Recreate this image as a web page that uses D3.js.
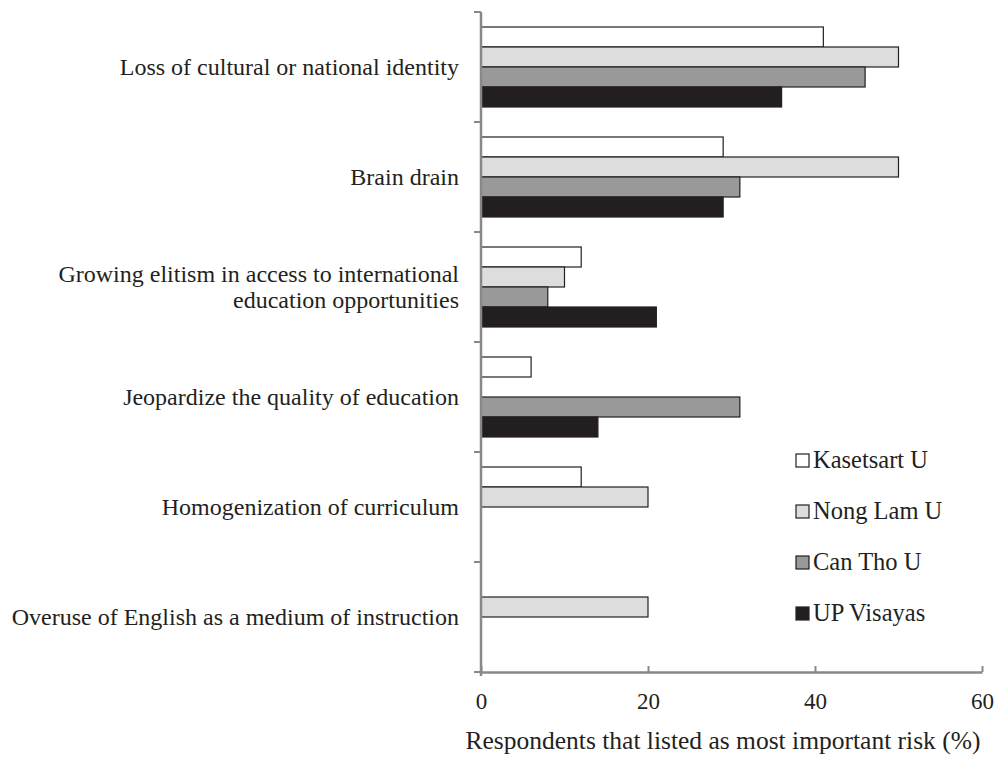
<!DOCTYPE html>
<html>
<head>
<meta charset="utf-8">
<script src="https://cdn.jsdelivr.net/npm/d3@7"></script>
<style>
  body { margin: 0; background: #fff; }
  svg { display: block; font-family: "Liberation Serif", "Times New Roman", serif; }
</style>
</head>
<body>
<div id="chart"></div>
<script>
// chart data
const categories = [
  ["Loss of cultural or national identity"],
  ["Brain drain"],
  ["Growing elitism in access to international", "education opportunities"],
  ["Jeopardize the quality of education"],
  ["Homogenization of curriculum"],
  ["Overuse of English as a medium of instruction"]
];
const seriesNames = ["Kasetsart U", "Nong Lam U", "Can Tho U", "UP Visayas"];
const kasetsart = [41, 29, 12, 6, 12, 0];
const nongLam   = [50, 50, 10, 0, 20, 20];
const canTho    = [46, 31, 8, 31, 0, 0];
const upVisayas = [36, 29, 21, 14, 0, 0];
const xTicks = [0, 20, 40, 60];

const colors = ["#ffffff", "#dddddd", "#999999", "#231f20"];
const series = [kasetsart, nongLam, canTho, upVisayas];

let w = 999, h = 758;
let padL = 481, padR = 982, padT = 12, padB = 672;

let svg = d3.select("#chart").append("svg")
  .attr("width", w).attr("height", h);

let x = d3.scaleLinear().domain([0, 60]).range([padL, padR]);
let y = d3.scaleBand().domain(d3.range(categories.length)).range([padT, padB]);
let inner = d3.scaleBand().domain(d3.range(series.length))
  .range([15, y.bandwidth() - 15]);

// bars
series.forEach((vals, s) => {
  svg.append("g").selectAll("rect")
    .data(vals.map((v, i) => ({v, i})).filter(d => d.v > 0))
    .enter().append("rect")
    .attr("x", x(0))
    .attr("y", d => y(d.i) + inner(s))
    .attr("width", d => x(d.v) - x(0))
    .attr("height", inner.bandwidth())
    .attr("fill", colors[s])
    .attr("stroke", "#231f20")
    .attr("stroke-width", 1.2);
});

// x axis
let xAxis = svg.append("g")
  .attr("transform", `translate(0, ${padB})`)
  .call(d3.axisBottom(x).tickValues(xTicks).tickSize(-6).tickPadding(21).tickSizeOuter(0));
xAxis.select(".domain").attr("stroke", "#888").attr("stroke-width", 2.5);
xAxis.selectAll(".tick line").attr("stroke", "#888").attr("stroke-width", 2);
xAxis.selectAll(".tick text").attr("font-size", 23).attr("fill", "#231f20")
  .attr("font-family", "Liberation Serif");

// y axis
let yAxis = svg.append("g").attr("transform", `translate(${padL}, 0)`);
yAxis.append("line").attr("x1", 0).attr("x2", 0)
  .attr("y1", padT).attr("y2", padB + 4)
  .attr("stroke", "#888").attr("stroke-width", 2.5);
yAxis.selectAll("line.tk")
  .data(d3.range(categories.length + 1))
  .enter().append("line")
  .attr("class", "tk")
  .attr("x1", -7).attr("x2", 0)
  .attr("y1", d => padT + d * y.step()).attr("y2", d => padT + d * y.step())
  .attr("stroke", "#888").attr("stroke-width", 2);

// category labels
categories.forEach((lines, i) => {
  let cy = y(i) + y.bandwidth() / 2;
  let t = svg.append("text")
    .attr("text-anchor", "end")
    .attr("font-size", 24)
    .attr("fill", "#231f20");
  lines.forEach((ln, j) => {
    t.append("tspan")
      .attr("x", 459)
      .attr("y", cy + 8 - (lines.length - 1) * 13 + j * 26)
      .text(ln);
  });
});

// x axis title
svg.append("text")
  .attr("x", 723).attr("y", 749)
  .attr("text-anchor", "middle")
  .attr("font-size", 25.5)
  .attr("fill", "#231f20")
  .text("Respondents that listed as most important risk (%)");

// legend
let legend = svg.append("g");
seriesNames.forEach((name, i) => {
  let ly = 468 + i * 51;
  legend.append("rect")
    .attr("x", 796).attr("y", ly - 14)
    .attr("width", 13).attr("height", 13)
    .attr("fill", colors[i])
    .attr("stroke", "#231f20").attr("stroke-width", 1.2);
  legend.append("text")
    .attr("x", 813).attr("y", ly)
    .attr("font-size", 24.5)
    .attr("fill", "#231f20")
    .text(name);
});
</script>
</body>
</html>
